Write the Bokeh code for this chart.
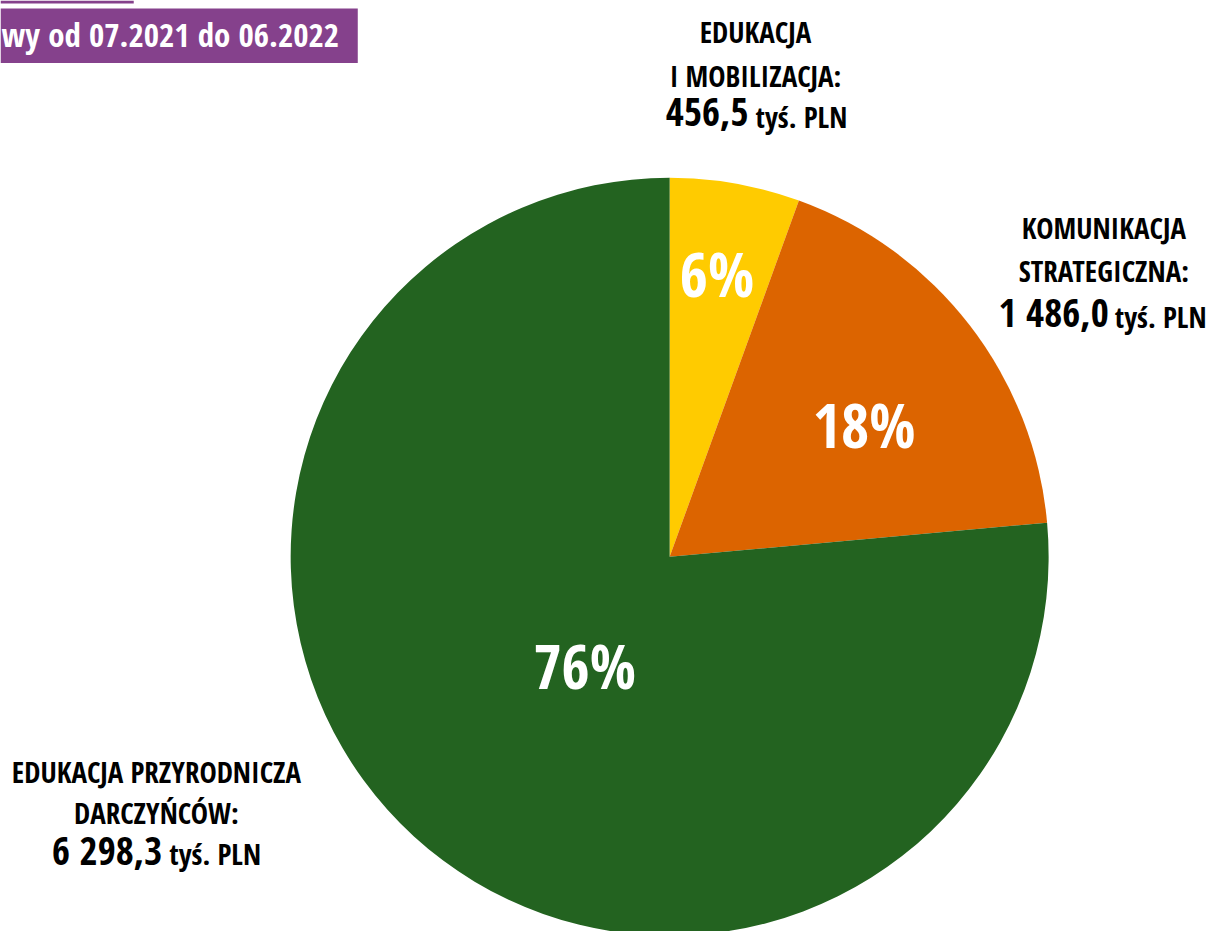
import math
from bokeh.plotting import figure
from bokeh.models import Range1d, ColumnDataSource
from bokeh.core.properties import value
from bokeh.embed import file_html
from bokeh.resources import INLINE

# ---- data ----
categories = ["EDUKACJA I MOBILIZACJA", "KOMUNIKACJA STRATEGICZNA", "EDUKACJA PRZYRODNICZA DARCZYŃCÓW"]
amounts = [456.5, 1486.0, 6298.3]          # tys. PLN
percent_labels = ["6%", "18%", "76%"]
amount_labels = ["456,5", "1 486,0", "6 298,3"]
unit_label = "tyś. PLN"
colors = ["#FFCB00", "#DC6400", "#236320"]
title_text = "wy od 07.2021 do 06.2022"

W, H = 1209, 931          # figure size in screen px
RW, RH = 1225, 939        # reference coordinate space
FONT = "Open Sans Condensed"
BASE_K = 0.44             # baseline compensation (fraction of font size)

def X(ix):
    return ix

def Y(iy):
    return RH - iy

def txt(x, y, t, size, color, align):
    # y = desired baseline in reference pixels (from top)
    p.text(x=[X(x)], y=[Y(y - BASE_K * size)], text=[t], text_font=value(FONT), text_font_style="bold",
           text_font_size=f"{size}px", text_color=color, text_align=align, text_baseline="alphabetic")

p = figure(width=W, height=H, output_backend="svg", toolbar_location=None,
           x_range=Range1d(0, RW), y_range=Range1d(0, RH), min_border=0)
p.axis.visible = False
p.grid.visible = False
p.outline_line_color = None
p.background_fill_color = "white"
p.border_fill_color = "white"

# pie
total = sum(amounts)
starts, ends = [], []
a = math.pi / 2
for v in amounts:
    starts.append(a)
    a -= v / total * 2 * math.pi
    ends.append(a)
src = ColumnDataSource(dict(start=starts, end=ends, color=colors, cat=categories))
cx, cy, R = X(678), Y(561), 384
p.wedge(x=cx, y=cy, radius=R, radius_units="data", start_angle="start", end_angle="end",
        direction="clock", fill_color="color", line_color=None, source=src)

# percent labels
pct_pos = [(726, 302), (875, 454), (592, 698)]
for (ix, iy), t in zip(pct_pos, percent_labels):
    txt(ix, iy, t, 61, "white", "center")

# title box
p.quad(left=X(0), right=X(135), top=Y(0), bottom=Y(3), fill_color="#85418C", line_color=None)
p.quad(left=X(0), right=X(362), top=Y(8), bottom=Y(63), fill_color="#85418C", line_color=None)
txt(1, 49, title_text, 33, "white", "left")

def label_lines(lines, cxi, ys, size=29):
    for t, iy in zip(lines, ys):
        txt(cxi, iy, t, size, "black", "center")

def amount_line(num, split_x, gap, iy):
    txt(split_x, iy, num, 39, "black", "right")
    txt(split_x + gap, iy, unit_label, 29, "black", "left")

label_lines(["EDUKACJA", "I MOBILIZACJA:"], 765, [44, 88])
amount_line(amount_labels[0], 758, 7, 130)

label_lines(["KOMUNIKACJA", "STRATEGICZNA:"], 1118, [242, 285])
amount_line(amount_labels[1], 1123, 6, 331)

label_lines(["EDUKACJA PRZYRODNICZA", "DARCZYŃCÓW:"], 158, [790, 832])
amount_line(amount_labels[2], 164, 7, 873)

open("out.html", "w").write(file_html(p, INLINE))
